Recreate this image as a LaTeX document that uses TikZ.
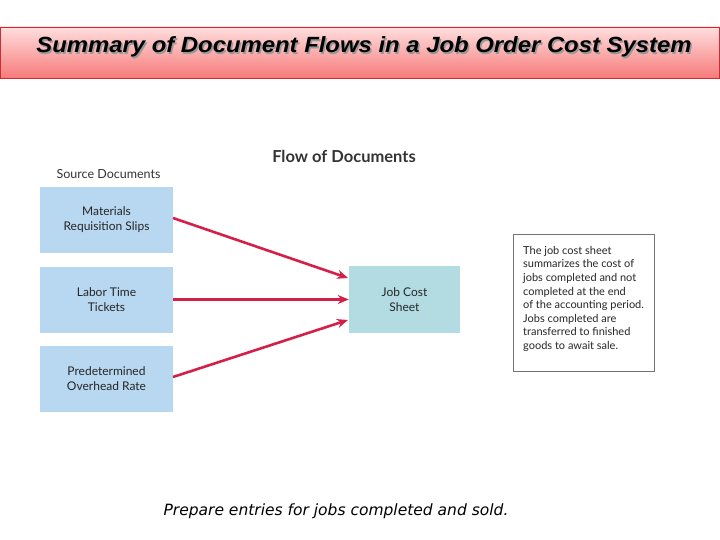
\documentclass[tikz,border=0pt]{standalone}
\usepackage{fontspec}
\setmainfont{Lato}
\newfontfamily\titlefont{Liberation Sans}
\newfontfamily\notefont{DejaVu Sans}
\usetikzlibrary{arrows.meta}
\definecolor{srcblue}{RGB}{184,215,240}
\definecolor{jobblue}{RGB}{178,220,226}
\definecolor{arrowred}{RGB}{212,32,72}
\definecolor{titletop}{RGB}{255,222,222}
\definecolor{titlebot}{RGB}{246,122,122}
\definecolor{titleedge}{RGB}{205,45,50}
\begin{document}
\begin{tikzpicture}[x=1pt,y=-1pt,
  srcbox/.style={fill=srcblue, minimum width=133pt, minimum height=66pt, inner sep=0pt, align=center, font=\fontsize{12}{15}\selectfont, text=black!85},
  jobbox/.style={fill=jobblue, minimum width=111pt, minimum height=67pt, inner sep=0pt, align=center, font=\fontsize{12}{15}\selectfont, text=black!85},
  flow/.style={draw=arrowred, line width=2.6pt, -{Stealth[length=11pt,width=9pt]}},
  titletext/.style={font=\titlefont\bfseries\itshape\fontsize{22}{24}\selectfont, xscale=1.085}
]
\useasboundingbox (0,0) rectangle (720,540);
% title bar
\shade[top color=titletop, bottom color=titlebot, draw=titleedge, line width=0.8pt] (0.5,27) rectangle (719.5,78);
\node[titletext, text=black!40] at (365.5,48.5) {Summary of Document Flows in a Job Order Cost System};
\node (title) [titletext, text=black] at (364,47) {Summary of Document Flows in a Job Order Cost System};
% headings
\node (flowhead) [font=\bfseries\fontsize{16.5}{18}\selectfont, text=black!80] at (344,156) {Flow of Documents};
\node (srchead) [font=\fontsize{12.5}{14}\selectfont, text=black!80] at (108.5,174) {Source Documents};
% source boxes
\node (mat) [srcbox] at (106.5,220) {Materials\\Requisition Slips};
\node (lab) [srcbox] at (106.5,299.5) {Labor Time\\Tickets};
\node (pre) [srcbox] at (106.5,379) {Predetermined\\Overhead Rate};
% job cost sheet
\node (job) [jobbox] at (404.5,299.5) {Job Cost\\Sheet};
% arrows
\coordinate (m0) at (173,218);
\coordinate (p0) at (173,377);
\coordinate (m1) at (348,278);
\coordinate (p1) at (348,320);
\draw[flow] (m0) -- (m1);
\draw[flow] (lab.east) -- (job.west);
\draw[flow] (p0) -- (p1);
% note
\node (note) [draw=black!55, line width=0.8pt, fill=white, minimum width=141pt, minimum height=137pt, inner sep=0pt] at (583.5,302.5) {};
\node [anchor=north west, align=left, font=\fontsize{11}{13.6}\selectfont, text=black!85, inner sep=0pt] at (523,246) {The job cost sheet\\summarizes the cost of\\jobs completed and not\\completed at the end\\of the accounting period.\\Jobs completed are\\transferred to finished\\goods to await sale.};
% bottom caption
\node (caption) [font=\notefont\itshape\fontsize{15.5}{17}\selectfont] at (336,511) {Prepare entries for jobs completed and sold.};
\end{tikzpicture}
\end{document}
